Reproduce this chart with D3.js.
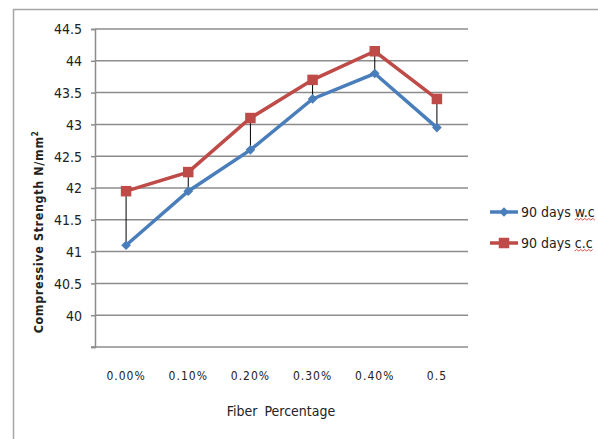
<!DOCTYPE html>
<html>
<head>
<meta charset="utf-8">
<script src="https://cdn.jsdelivr.net/npm/d3@7"></script>
<style>
    body { margin: 0; background: #fff; }
    svg text { font-family: "DejaVu Sans Condensed", "Liberation Sans", sans-serif; fill: #222; }
</style>
</head>
<body>
<svg id="chart" width="598" height="439"></svg>
<script>
    "use strict";

    // Chart data
    var categories = ["0.00%", "0.10%", "0.20%", "0.30%", "0.40%", "0.5"];
    var seriesNames = ["90 days w.c", "90 days c.c"];
    var wcValues = [41.1, 41.95, 42.6, 43.4, 43.8, 42.95];
    var ccValues = [41.95, 42.25, 43.1, 43.7, 44.15, 43.4];
    var yTicks = [40, 40.5, 41, 41.5, 42, 42.5, 43, 43.5, 44, 44.5];

    const BLUE = "#4a7ebb";
    const RED = "#be4b48";

    var svg = d3.select("#chart");

    // Outer chart frame (cut off on right and bottom)
    svg.append("rect")
        .attr("x", 13.5).attr("y", 9.5)
        .attr("width", 620).attr("height", 460)
        .attr("fill", "none").attr("stroke", "#a6a6a6").attr("stroke-width", 1.5);

    var plotLeft = 95, plotRight = 468, plotTop = 29, plotBottom = 347;

    var x = d3.scaleBand().domain(categories).range([plotLeft, plotRight]);
    var y = d3.scaleLinear().domain([39.5, 44.5]).range([plotBottom, plotTop]);

    // Gridlines
    svg.append("g")
        .selectAll("line")
        .data(yTicks)
        .enter().append("line")
            .attr("x1", plotLeft).attr("x2", plotRight)
            .attr("y1", function(d) { return y(d); })
            .attr("y2", function(d) { return y(d); })
            .attr("stroke", "#8c8c8c").attr("stroke-width", 1.5);

    // Y axis
    var yAxis = svg.append("g")
        .attr("transform", "translate(" + plotLeft + ",0)")
        .call(d3.axisLeft(y).tickValues([39.5].concat(yTicks)).tickSize(4).tickFormat(function(d) { return d === 39.5 ? "" : d; }));
    yAxis.select(".domain").attr("stroke", "#8c8c8c").attr("stroke-width", 1.5);
    yAxis.selectAll(".tick line").attr("stroke", "#8c8c8c").attr("stroke-width", 1.5);
    yAxis.selectAll(".tick text")
        .attr("x", -13).attr("dy", "0.35em")
        .style("font-size", "14px").style("font-family", null);

    // X axis
    var xAxis = svg.append("g")
        .attr("transform", "translate(0," + plotBottom + ")")
        .call(d3.axisBottom(x).tickSize(0).tickPadding(24));
    xAxis.select(".domain").attr("d", "M" + (plotLeft - 4) + ",0H" + plotRight)
        .attr("stroke", "#8c8c8c").attr("stroke-width", 1.5);
    xAxis.selectAll(".tick text")
        .style("font-size", "12px").style("letter-spacing", "1px").style("font-family", null);

    // Axis titles
    svg.append("text")
        .attr("x", 281).attr("y", 416)
        .attr("text-anchor", "middle")
        .style("font-size", "14px").style("word-spacing", "3px")
        .text("Fiber Percentage");

    var yTitle = svg.append("text")
        .attr("transform", "translate(43,232) rotate(-90)")
        .attr("text-anchor", "middle")
        .style("font-size", "12.5px").style("font-weight", "bold").style("letter-spacing", "0.6px");
    yTitle.append("tspan").text("Compressive  Strength  N/mm");
    yTitle.append("tspan").attr("dy", -5).style("font-size", "8px").text("2");

    var cx = function(d, i) { return x(categories[i]) + x.bandwidth() / 2; };

    // High-low lines between the series
    svg.append("g")
        .selectAll("line")
        .data(categories)
        .enter().append("line")
            .attr("x1", cx).attr("x2", cx)
            .attr("y1", function(d, i) { return y(ccValues[i]); })
            .attr("y2", function(d, i) { return y(wcValues[i]); })
            .attr("stroke", "#000").attr("stroke-width", 1);

    var line = d3.line()
        .x(function(d, i) { return x(categories[i]) + x.bandwidth() / 2; })
        .y(function(d) { return y(d); });

    svg.append("path").datum(wcValues)
        .attr("d", line).attr("fill", "none").attr("stroke", BLUE).attr("stroke-width", 3.5);
    svg.append("path").datum(ccValues)
        .attr("d", line).attr("fill", "none").attr("stroke", RED).attr("stroke-width", 3.5);

    var diamond = d3.symbol().type(d3.symbolDiamond2).size(60);
    var square = d3.symbol().type(d3.symbolSquare).size(110);

    svg.append("g").selectAll("path")
        .data(wcValues)
        .enter().append("path")
            .attr("d", diamond)
            .attr("transform", function(d, i) { return "translate(" + cx(d, i) + "," + y(d) + ")"; })
            .attr("fill", BLUE);

    svg.append("g").selectAll("path")
        .data(ccValues)
        .enter().append("path")
            .attr("d", square)
            .attr("transform", function(d, i) { return "translate(" + cx(d, i) + "," + y(d) + ")"; })
            .attr("fill", RED);

    // Legend
    var legend = svg.append("g").selectAll("g")
        .data(seriesNames)
        .enter().append("g")
            .attr("transform", function(d, i) { return "translate(490," + (212 + i * 31) + ")"; });

    legend.append("line")
        .attr("x1", 0).attr("x2", 28).attr("y1", 0).attr("y2", 0)
        .attr("stroke", function(d, i) { return i === 0 ? BLUE : RED; })
        .attr("stroke-width", 3.5);
    legend.append("path")
        .attr("d", function(d, i) { return i === 0 ? diamond() : square(); })
        .attr("transform", "translate(14,0)")
        .attr("fill", function(d, i) { return i === 0 ? BLUE : RED; });

    var legendText = legend.append("text")
        .attr("x", 31).attr("dy", "0.35em")
        .style("font-size", "14px")
        .text(function(d) { return d; });

    // Red spell-check squiggle under "w.c" / "c.c"
    legendText.each(function(d) {
        var el = this;
        var k = d.lastIndexOf(" ") + 1;
        var x0 = el.getStartPositionOfChar(k).x;
        var x1 = el.getEndPositionOfChar(d.length - 1).x;
        var p = d3.path();
        var yb = 8;
        p.moveTo(x0, yb);
        for (var xx = x0, up = true; xx < x1; xx += 2, up = !up)
        {
            p.lineTo(Math.min(xx + 2, x1), up ? yb - 1.5 : yb);
        }
        d3.select(el.parentNode).append("path")
            .attr("d", p.toString())
            .attr("fill", "none").attr("stroke", "#e02020").attr("stroke-width", 0.8);
    });
</script>
</body>
</html>
